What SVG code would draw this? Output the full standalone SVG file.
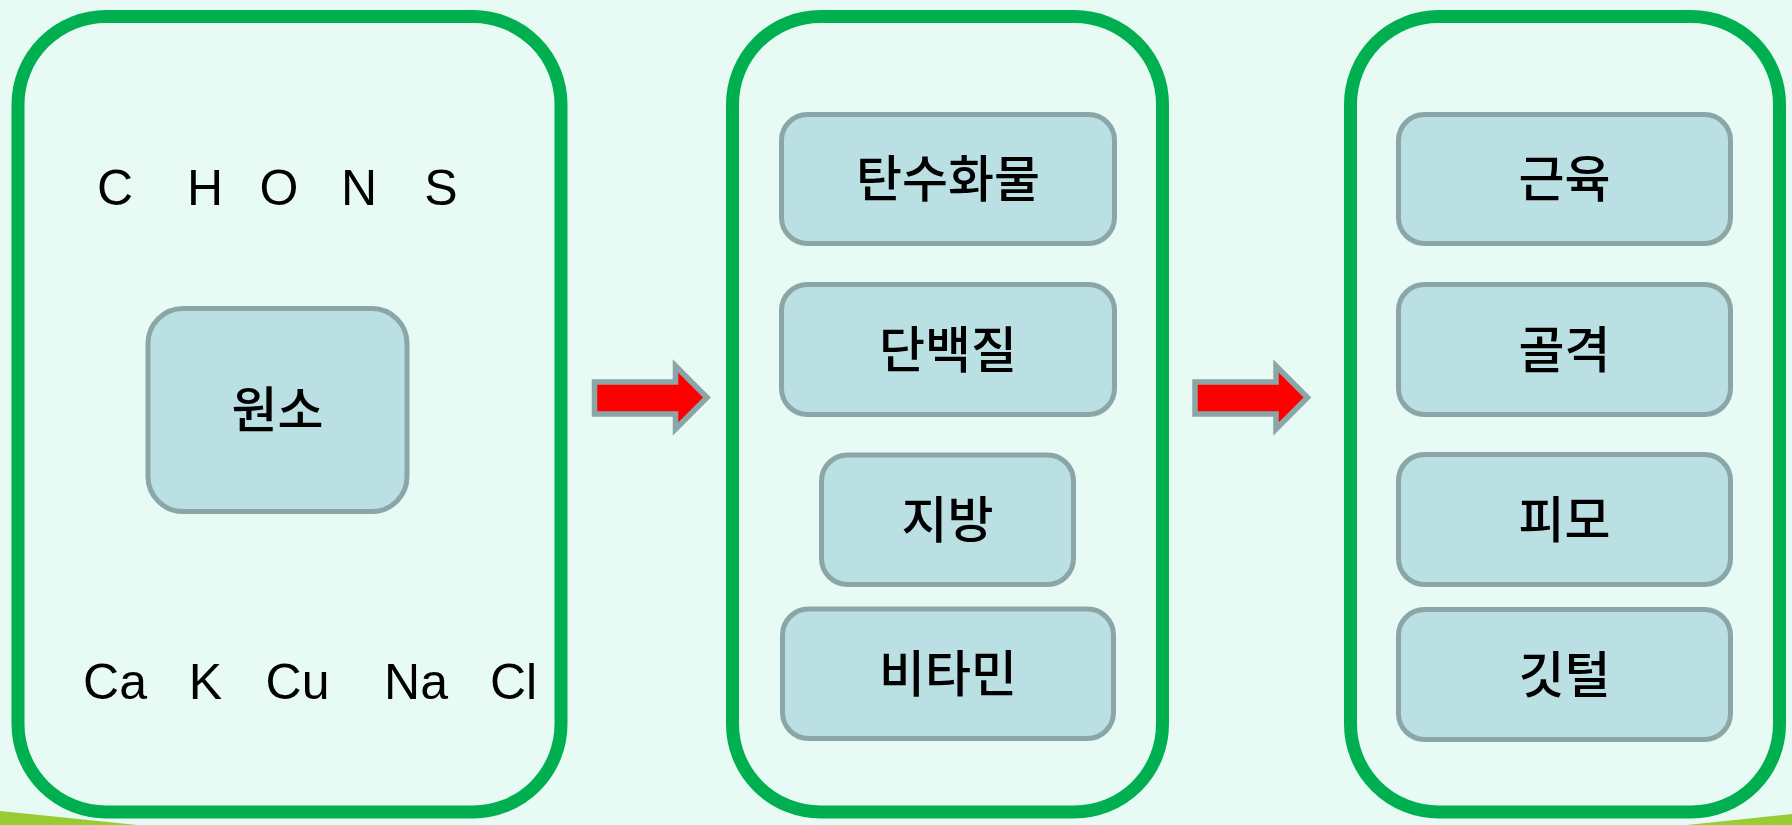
<svg xmlns="http://www.w3.org/2000/svg" width="1792" height="825" viewBox="0 0 1792 825">
<style>
.panel{fill:#e7faf3;stroke:#00b050;stroke-width:13}
.node{fill:#bbe0e3;stroke:#8ba6a8;stroke-width:5}
.ko{font-family:"Noto Sans CJK KR","Noto Sans CJK SC",sans-serif;font-weight:500;font-size:50px;fill:#000;text-anchor:middle}
.el{font-family:"Liberation Sans",Arial,sans-serif;font-size:50px;fill:#000;text-anchor:middle}
.arrow{fill:#ff0000;stroke:#8ba6a8;stroke-width:5.5;stroke-linejoin:miter}
.deco{fill:#99cc33}
</style>
<rect width="1792" height="825" fill="#e7faf3"/>
<polygon class="deco" points="0,811 137,825 0,825"/>
<polygon class="deco" points="1687,825 1792,814 1792,825"/>
<g id="panel-elements">
<rect class="panel" x="18" y="16.5" width="543" height="795.5" rx="88"/>
<text class="el"><tspan x="115" y="205">C</tspan><tspan x="205" y="205">H</tspan><tspan x="279" y="205">O</tspan><tspan x="359" y="205">N</tspan><tspan x="441" y="205">S</tspan></text>
<text class="el"><tspan x="115" y="699">Ca</tspan><tspan x="205.5" y="699">K</tspan><tspan x="297.5" y="699">Cu</tspan><tspan x="416" y="699">Na</tspan><tspan x="513.5" y="699">Cl</tspan></text>
</g>
<g id="node-wonso">
<rect class="node" x="148" y="308.5" width="259" height="203" rx="35"/>
<text class="ko" x="277.5" y="428">원소</text>
</g>
<g id="panel-nutrients">
<rect class="panel" x="732.5" y="16.5" width="430" height="795.5" rx="88"/>
</g>
<g id="node-carb">
<rect class="node" x="781.5" y="114.5" width="333" height="129" rx="26"/>
<text class="ko" x="948" y="197">탄수화물</text>
</g>
<g id="node-protein">
<rect class="node" x="781.5" y="284.5" width="333" height="130" rx="26"/>
<text class="ko" x="948" y="367.5">단백질</text>
</g>
<g id="node-fat">
<rect class="node" x="821.5" y="455" width="252" height="129.5" rx="26"/>
<text class="ko" x="947.5" y="538">지방</text>
</g>
<g id="node-vitamin">
<rect class="node" x="782.5" y="609" width="331" height="129.5" rx="26"/>
<text class="ko" x="948" y="692">비타민</text>
</g>
<g id="panel-tissues">
<rect class="panel" x="1350.5" y="16.5" width="429" height="795.5" rx="88"/>
</g>
<g id="node-muscle">
<rect class="node" x="1398.5" y="114.5" width="332" height="129" rx="26"/>
<text class="ko" x="1564.5" y="197">근육</text>
</g>
<g id="node-skeleton">
<rect class="node" x="1398.5" y="284.5" width="332" height="130" rx="26"/>
<text class="ko" x="1564.5" y="367.5">골격</text>
</g>
<g id="node-skin">
<rect class="node" x="1398.5" y="454.5" width="332" height="130" rx="26"/>
<text class="ko" x="1564.5" y="538">피모</text>
</g>
<g id="node-feather">
<rect class="node" x="1398.5" y="609.5" width="332" height="130" rx="26"/>
<text class="ko" x="1564.5" y="692.5">깃털</text>
</g>
<g id="connectors">
<polygon class="arrow" points="594.5,382 675.5,382 675.5,366 707,397.5 675.5,429 675.5,414 594.5,414"/>
<polygon class="arrow" points="1195,382 1276,382 1276,366 1307.5,397.5 1276,429 1276,414 1195,414"/>
</g>
</svg>
